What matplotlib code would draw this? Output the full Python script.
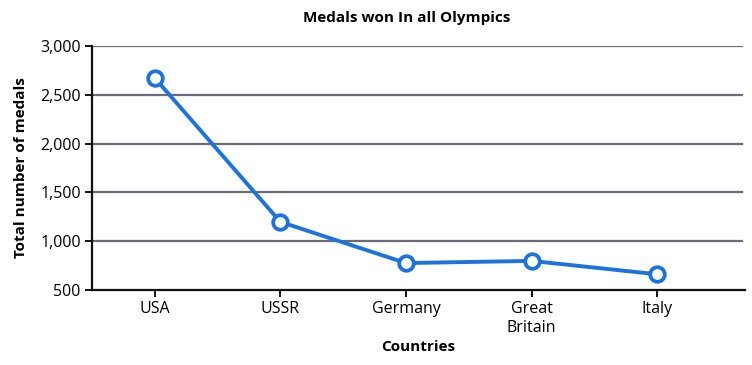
import matplotlib
matplotlib.use("Agg")
import matplotlib.pyplot as plt

plt.rcParams['font.family'] = ['Open Sans', 'DejaVu Sans']

countries = ["USA", "USSR", "Germany", "Great\nBritain", "Italy"]
medals = [2672, 1198, 776, 798, 661]
yticks = [500, 1000, 1500, 2000, 2500, 3000]

fig = plt.figure(figsize=(7.52, 3.65), dpi=100)
ax = fig.add_axes([0.1223, 0.2055, 0.8684, 0.6685])

x = list(range(len(countries)))
for yv in yticks[1:]:
    ax.axhline(yv, color="#6b6b78", lw=1.6, zorder=1, xmax=0.995)
ax.plot(x, medals, color="#1a73e0", lw=2.8, marker="o", markersize=10.5,
        markerfacecolor="white", markeredgecolor="#1a73e0", markeredgewidth=2.7, zorder=3)

ax.set_xlim(-0.5, 4.7)
ax.set_ylim(500, 3000)
ax.set_yticks(yticks)
ax.set_yticklabels([f"{v:,}" for v in yticks], fontsize=11.5)
ax.set_xticks(x)
ax.set_xticklabels(countries, fontsize=11.5, linespacing=1.25)
for s in ["top", "right"]:
    ax.spines[s].set_visible(False)
for s in ["left", "bottom"]:
    ax.spines[s].set_linewidth(1.6)
    ax.spines[s].set_color("#111111")
ax.tick_params(axis="both", length=5, width=1.4, color="#111111", pad=3)
ax.set_xlabel("Countries", fontsize=11, fontweight="bold", labelpad=3)
ax.set_ylabel("Total number of medals", fontsize=11, fontweight="bold", labelpad=9)
fig.text(0.541, 0.95, "Medals won In all Olympics", ha="center", va="center",
         fontsize=11, fontweight="bold")

fig.savefig("out.png", dpi=100)
